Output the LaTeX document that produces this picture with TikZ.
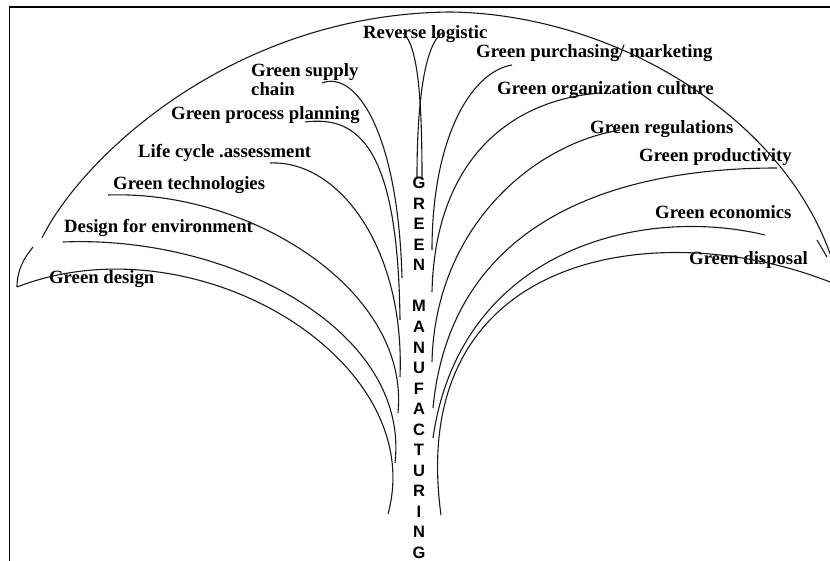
\documentclass[tikz,border=0pt]{standalone}
\usepackage{fontspec}
\setmainfont{Liberation Serif}
\newfontfamily\labsans{Liberation Sans}
\begin{document}
\begin{tikzpicture}[x=1pt,y=-1pt,
  lab/.style={font=\bfseries\fontsize{18.7}{19}\selectfont, inner sep=0pt, anchor=base west},
  vlet/.style={font=\labsans\bfseries\fontsize{16.5}{17}\selectfont, inner sep=0pt, anchor=base},
  branch/.style={line width=1.1pt, black!90},
  frameline/.style={line width=1.6pt}]
\useasboundingbox (0,0) rectangle (830,561);
\clip (0,0) rectangle (830,561);
\draw[frameline] (9.5,561) -- (9.5,7) -- (830,7);

% labels
\node[lab] (rl)  at (363,39)  {Reverse logistic};
\node[lab] (gsc) at (251,77)  {\begin{tabular}[t]{@{}l@{}}Green supply\\chain\end{tabular}};
\node[lab] (gpp) at (171,120) {Green process planning};
\node[lab] (lca) at (138,158) {Life cycle .assessment};
\node[lab] (gt)  at (113,190) {Green technologies};
\node[lab] (dfe) at (64,233)  {Design for environment};
\node[lab] (gd)  at (49,284)  {Green design};
\node[lab] (gpm) at (476,58)  {Green purchasing/ marketing};
\node[lab] (goc) at (497,95)  {Green organization culture};
\node[lab] (gr)  at (590,134) {Green regulations};
\node[lab] (gp)  at (639,162) {Green productivity};
\node[lab] (ge)  at (655,219) {Green economics};
\node[lab] (gdi) at (689,265) {Green disposal};

% vertical title
\foreach \c/\yy [count=\i] in {G/183,R/203.5,E/224,E/244.5,N/265,M/306,A/326.5,N/347,U/367.5,F/388,A/408.5,C/429,T/449.5,U/470,R/490.5,I/511,N/531.5,G/552}
  \node[vlet] (gm\i) at (419,{\yy+6}) {\c};

% curve end points
\coordinate (gd-s) at (17,287);   \coordinate (gd-e) at (388,514);
\coordinate (dfe-s) at (63,242);  \coordinate (dfe-e) at (395,463);
\coordinate (gt-s) at (108,195);  \coordinate (gt-e) at (398,413);
\coordinate (lca-s) at (270,163); \coordinate (lca-e) at (400,377);
\coordinate (gpp-s) at (305,122); \coordinate (gpp-e) at (400,320);
\coordinate (gsc-s) at (322,83);  \coordinate (gsc-e) at (402,278);
\coordinate (rla-s) at (403,33);  \coordinate (rla-e) at (422,177);
\coordinate (rlb-s) at (442,33);  \coordinate (rlb-e) at (417,177);
\coordinate (gpm-s) at (512,65);  \coordinate (gpm-e) at (432,250);
\coordinate (goc-s) at (600,93);  \coordinate (goc-e) at (432,292);
\coordinate (gr-s) at (620,130);  \coordinate (gr-e) at (432,362);
\coordinate (gp-s) at (777,168);  \coordinate (gp-e) at (433,408);
\coordinate (ge-s) at (765,235);  \coordinate (ge-e) at (433,438);
\coordinate (gdi-s) at (830,282); \coordinate (gdi-e) at (441,515);

% branches
\draw[branch] (gd-s) .. controls (195,218) and (430,360) .. (gd-e);
\draw[branch] (dfe-s) .. controls (230,235) and (410,330) .. (dfe-e);
\draw[branch] (gt-s) .. controls (250,190) and (410,290) .. (gt-e);
\draw[branch] (lca-s) .. controls (340,160) and (405,250) .. (lca-e);
\draw[branch] (gpp-s) .. controls (360,115) and (398,150) .. (gpp-e);
\draw[branch] (gsc-s) .. controls (355,70) and (398,130) .. (gsc-e);
\draw[branch] (rla-s) .. controls (418,45) and (422,100) .. (rla-e);
\draw[branch] (rlb-s) .. controls (425,45) and (417,100) .. (rlb-e);
\draw[branch] (gpm-s) .. controls (470,72) and (432,140) .. (gpm-e);
\draw[branch] (goc-s) .. controls (510,100) and (435,160) .. (goc-e);
\draw[branch] (gr-s) .. controls (530,145) and (435,230) .. (gr-e);
\draw[branch] (gp-s) .. controls (600,168) and (450,230) .. (gp-e);
\draw[branch] (ge-s) .. controls (640,205) and (460,250) .. (ge-e);
\draw[branch] (gdi-s) .. controls (660,215) and (405,250) .. (gdi-e);

% canopy arc
\coordinate (arc-l) at (17,287);
\coordinate (arc-g1) at (33,247);
\coordinate (arc-g2) at (42,238);
\coordinate (arc-top) at (450,12);
\coordinate (arc-r) at (838,280);
\draw[branch] (arc-l) .. controls (17,270) and (24,258) .. (arc-g1);
\draw[branch] (arc-g2) .. controls (80,160) and (230,14) .. (arc-top)
  .. controls (620,14) and (800,125) .. (arc-r);
\coordinate (seg-a) at (817,240);
\coordinate (seg-b) at (827,257);
\draw[branch] (seg-a) -- (seg-b);
\end{tikzpicture}
\end{document}
